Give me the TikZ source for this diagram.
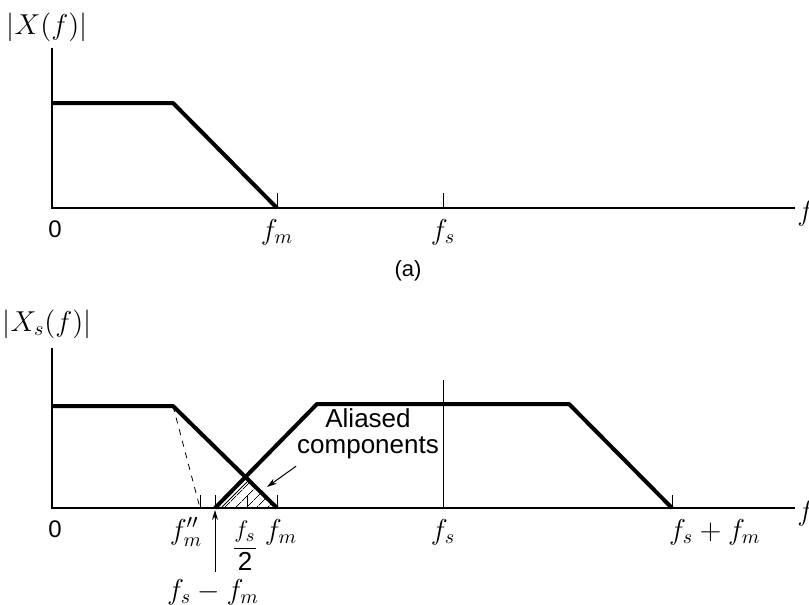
\documentclass[tikz,border=0pt]{standalone}
\usepackage{amsmath}
\usepackage{fontspec}
\setsansfont{Liberation Sans}
\usetikzlibrary{patterns.meta,arrows.meta}
\begin{document}
\begin{tikzpicture}[x=0.5pt,y=-0.5pt,
    every node/.style={font=\fontsize{14}{16}\selectfont},
    spec/.style={line width=2pt, line join=round},
    axis/.style={line width=1pt},
    tickline/.style={line width=0.4pt},
    arr/.style={line width=0.5pt, -{Stealth[length=5pt,width=3pt]}}]
    \useasboundingbox (0,0) rectangle (809,605);
    % spectrum (a)
    \node (magA) at (47,27) {$\left|X(f)\right|$};
    \draw[axis] (52,48)--(52,208)--(795,208);
    \draw[spec] (52,103)--(173,103)--(277,208);
    \foreach \x/\t in {277/f_m, 443/f_s}{
        \draw[tickline] (\x,193)--(\x,208);
        \node (lblA\x) at (\x,232) {$\t$};
    }
    \node[font=\sffamily\fontsize{12}{14}\selectfont] (zeroA) at (55,229) {0};
    \node[anchor=west, inner sep=0pt] (freqA) at (797,213) {$f$};
    \node[font=\sffamily\fontsize{11}{12}\selectfont] (capA) at (408,271) {(a)};
    % spectrum (b), sampled
    \node (magB) at (47,324) {$\left|X_s(f)\right|$};
    \fill[pattern={Lines[angle=45,distance=4pt,line width=0.4pt]}] (215,508)--(247,477)--(277,508)--cycle;
    \draw[axis] (52,348)--(52,508)--(795,508);
    \draw[spec] (52,406)--(173,406)--(277,508);
    \draw[tickline, dashed] (173,406)--(200,508);
    \draw[spec] (215,508)--(317,404)--(569,404)--(672,508);
    \draw[tickline] (221,508)--(249,480);
    \draw[tickline] (443,380)--(443,508);
    \foreach \x in {200,215,247,277,672}
        \draw[tickline] (\x,495)--(\x,508);
    \node[font=\sffamily\fontsize{12}{14}\selectfont] (zeroB) at (55,529) {0};
    \node (fmpp) at (186,532) {$f''_m$};
    \node[font=\fontsize{13}{15}\selectfont, inner sep=1pt] (fshalf) at (245,546) {$\dfrac{f_s}{\textsf{2}}$};
    \node (fmB) at (281,532) {$f_m$};
    \node (fsB) at (443,532) {$f_s$};
    \node[anchor=west] (fsum) at (662,532) {$f_s + f_m$};
    \node (fdiff) at (213,592) {$f_s - f_m$};
    \node[anchor=west, inner sep=0pt] (freqB) at (797,513) {$f$};
    \node[font=\sffamily\fontsize{13}{13}\selectfont, align=center] (alias) at (368,434) {Aliased\\components};
    \coordinate (aliasTip) at (267,487);
    \coordinate (diffTip) at (215,510);
    \draw[arr] ([xshift=3pt]alias.south west) -- (aliasTip);
    \draw[arr] (fdiff.north -| diffTip) -- (diffTip);
\end{tikzpicture}
\end{document}
